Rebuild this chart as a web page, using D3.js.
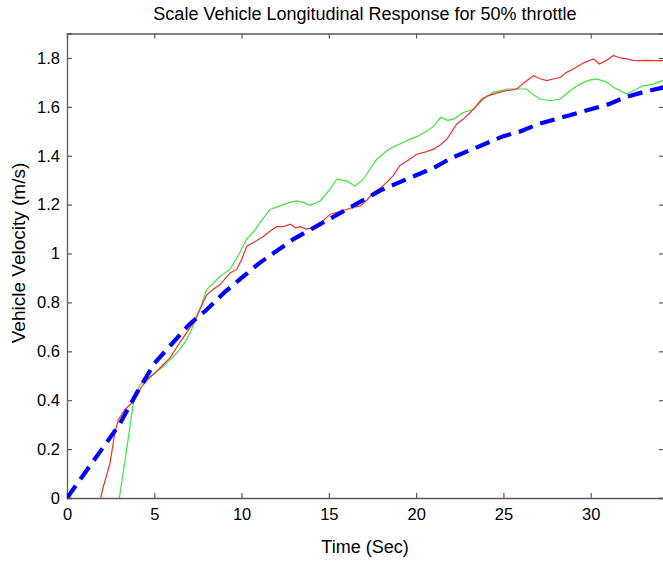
<!DOCTYPE html>
<html><head><meta charset="utf-8">
<script src="https://cdn.jsdelivr.net/npm/d3@7"></script>
<style>
html,body{margin:0;padding:0;background:#fff;}
svg{display:block;font-family:"Liberation Sans",Arial,Helvetica,sans-serif;}
</style></head>
<body>
<svg id="chart" width="663" height="563"></svg>
<script>
const title = "Scale Vehicle Longitudinal Response for 50% throttle";
const xLabel = "Time (Sec)";
const yLabel = "Vehicle Velocity (m/s)";
const xTicks = [0,5,10,15,20,25,30];
const yTicks = [0,0.2,0.4,0.6,0.8,1,1.2,1.4,1.6,1.8];

// Model (blue dashed)
const modelT = [0,1,2,3,4,5,6,7,8,9,10,11,12,13,14,15,16,17,18,19,20,21,22,23,24,25,26,27,28,29,30,31,32,33,34.2];
const modelV = [0,0.10,0.20,0.30,0.43,0.55,0.63,0.71,0.77,0.84,0.90,0.96,1.01,1.06,1.10,1.14,1.18,1.22,1.26,1.29,1.32,1.35,1.39,1.42,1.45,1.48,1.50,1.53,1.55,1.57,1.59,1.61,1.64,1.66,1.68];

// Run 1 (red)
const redT = [1.93,2.08,2.46,2.75,2.94,3.3,3.8,4.28,4.7,5.14,5.5,5.9,6.5,7.24,7.6,8.0,8.4,8.77,9.34,9.72,10.0,10.3,10.8,11.25,11.6,12.0,12.4,12.8,13.1,13.35,13.7,14.1,14.6,15.07,15.5,16.03,16.4,16.8,17.2,17.55,18.0,18.3,18.7,19.08,19.5,20.04,20.5,21.0,21.4,21.76,22.33,22.7,23.1,23.4,23.76,24.1,24.43,24.8,25.2,25.77,26.2,26.72,27.1,27.49,27.9,28.25,28.6,29.0,29.6,30.16,30.5,30.9,31.3,31.7,32.07,32.4,32.8,33.2,33.6,34.2];
const redV = [0,0.046,0.14,0.27,0.32,0.36,0.395,0.456,0.49,0.518,0.545,0.573,0.64,0.716,0.77,0.83,0.855,0.873,0.92,0.935,0.975,1.03,1.05,1.07,1.09,1.11,1.11,1.12,1.105,1.11,1.10,1.105,1.13,1.16,1.17,1.18,1.19,1.195,1.22,1.25,1.27,1.29,1.32,1.36,1.38,1.406,1.415,1.427,1.445,1.468,1.53,1.55,1.577,1.60,1.632,1.645,1.652,1.66,1.666,1.673,1.70,1.727,1.715,1.707,1.715,1.72,1.74,1.755,1.78,1.796,1.775,1.79,1.81,1.80,1.796,1.79,1.789,1.79,1.789,1.789];

// Run 2 (green)
const greenT = [3.0,3.4,3.8,4.18,4.76,5.1,5.52,5.9,6.29,6.7,7.05,7.62,8.0,8.4,8.77,9.34,9.8,10.3,10.7,11.06,11.63,12.0,12.4,12.8,13.16,13.5,13.93,14.5,15.07,15.45,16.03,16.5,16.98,17.4,17.75,18.32,18.8,19.27,19.66,20.1,20.6,21.0,21.4,21.8,22.14,22.7,23.3,23.86,24.43,24.8,25.2,25.8,26.34,26.7,27.1,27.68,28.25,28.82,29.2,29.59,30.0,30.36,30.93,31.3,31.69,32.07,32.64,33.0,33.6,34.2];
const greenV = [0,0.19,0.388,0.463,0.497,0.515,0.538,0.565,0.593,0.63,0.675,0.771,0.853,0.88,0.907,0.935,0.99,1.06,1.09,1.126,1.18,1.19,1.20,1.21,1.215,1.21,1.197,1.215,1.263,1.304,1.297,1.276,1.304,1.35,1.386,1.42,1.44,1.454,1.468,1.48,1.50,1.52,1.557,1.545,1.55,1.577,1.59,1.632,1.66,1.665,1.673,1.673,1.673,1.65,1.632,1.625,1.632,1.666,1.685,1.70,1.71,1.714,1.70,1.68,1.666,1.652,1.673,1.686,1.693,1.71];

const svg = d3.select("#chart");
const m = {left:67, top:33.5, right:664, bottom:498};
const x = d3.scaleLinear().domain([0,34.2]).range([m.left,m.right]);
const y = d3.scaleLinear().domain([0,1.9]).range([m.bottom,m.top]);

svg.append("defs").append("clipPath").attr("id","clip")
  .append("rect").attr("x",m.left).attr("y",m.top).attr("width",m.right-m.left).attr("height",m.bottom-m.top);

const axisColor = "#5a5a5a";
const fs = "16.5px";

// Axes
const xb = svg.append("g").attr("transform",`translate(0,${m.bottom})`)
  .call(d3.axisBottom(x).tickValues(xTicks).tickSize(-5).tickPadding(10).tickFormat(d3.format("d")));
const xt = svg.append("g").attr("transform",`translate(0,${m.top})`)
  .call(d3.axisTop(x).tickValues(xTicks).tickSize(-5).tickFormat(""));
const yl = svg.append("g").attr("transform",`translate(${m.left},0)`)
  .call(d3.axisLeft(y).tickValues(yTicks).tickSize(-5).tickPadding(7).tickFormat(d=>d3.format("~g")(d)));
const yr = svg.append("g").attr("transform",`translate(${m.right},0)`)
  .call(d3.axisRight(y).tickValues(yTicks).tickSize(-5).tickFormat(""));
[xb,xt,yl,yr].forEach(g=>{
  g.selectAll("path.domain").attr("stroke",axisColor).attr("stroke-width",1.3);
  g.selectAll(".tick line").attr("stroke",axisColor).attr("stroke-width",1.2);
  g.selectAll(".tick text").attr("fill","#000").style("font-size",fs).style("font-family","'Liberation Sans',Arial,sans-serif");
});

// Lines
const lineOf = (T,V)=>d3.line().x((d,i)=>x(T[i])).y((d,i)=>y(V[i]))(T);
const plot = svg.append("g").attr("clip-path","url(#clip)");
plot.append("path").attr("d",lineOf(greenT,greenV)).attr("fill","none").attr("stroke","#3ee33e").attr("stroke-width",1.2);
plot.append("path").attr("d",lineOf(redT,redV)).attr("fill","none").attr("stroke","#ee3030").attr("stroke-width",1.2);
plot.append("path").attr("d",lineOf(modelT,modelV)).attr("fill","none").attr("stroke","#0000ff")
  .attr("stroke-width",4.2).attr("stroke-dasharray","15,8");

// Labels
svg.append("text").attr("x",365).attr("y",20).attr("text-anchor","middle").style("font-size","18px").text(title);
svg.append("text").attr("x",365).attr("y",553).attr("text-anchor","middle").style("font-size","18px").text(xLabel);
svg.append("text").attr("transform",`translate(25,253) rotate(-90)`).attr("text-anchor","middle").style("font-size","19px").text(yLabel);
</script>
</body></html>
